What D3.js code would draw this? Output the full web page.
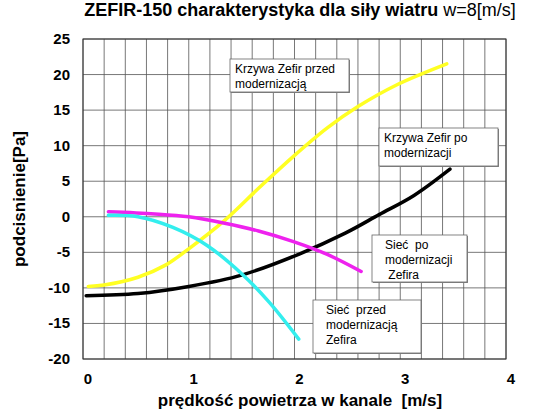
<!DOCTYPE html><html><head><script src="https://cdn.jsdelivr.net/npm/d3@7"></script>
<style>body{margin:0;background:#fff}text{font-family:"Liberation Sans",Arial,sans-serif;white-space:pre}</style></head><body>
<svg id="c" width="540" height="412"></svg>
<script>
const xTicks=[0,1,2,3,4];
const yTicks=[25,20,15,10,5,0,-5,-10,-15,-20];
const yellowX=[0.05,0.2,0.52,0.78,1.0,1.34,1.66,1.99,2.31,2.6,2.96,3.44];
const yellowY=[-9.8,-9.6,-8.5,-6.8,-4.5,-0.5,4,8.5,12.5,15.5,18.5,21.5];
const blackX=[0.03,0.52,1.0,1.5,2.05,2.48,2.8,3.13,3.47];
const blackY=[-11.1,-10.8,-9.8,-8.2,-5.2,-2.3,0.3,3,6.7];
const magX=[0.24,0.68,1.0,1.34,1.66,1.99,2.31,2.63];
const magY=[0.7,0.4,0,-0.9,-2,-3.5,-5.3,-7.7];
const cyanX=[0.24,0.52,0.85,1.17,1.5,1.76,2.04];
const cyanY=[0.2,0,-1.5,-4,-8,-12,-17.2];
const labels=[
 {t:["Krzywa Zefir przed","modernizacją"],b:[230,59,349,92]},
 {t:["Krzywa Zefir po","modernizacji"],b:[379,128,498,166]},
 {t:["Sieć  po","modernizacji"," Zefira"],b:[372,235,467,282]},
 {t:["Sieć  przed","modernizacją","Zefira"],b:[313,300,421,353]}];
const svg=d3.select("#c");
const x=d3.scaleLinear().domain([0,4]).range([83,506]);
const y=d3.scaleLinear().domain([-20,25]).range([359,39]);
const g=svg.append("g");
d3.range(0,4.01,0.2).forEach(v=>g.append("line").attr("x1",x(v)).attr("x2",x(v)).attr("y1",y(25)).attr("y2",y(-20)).attr("stroke","#555").attr("stroke-width",0.8));
yTicks.forEach(v=>g.append("line").attr("x1",x(0)).attr("x2",x(4)).attr("y1",y(v)).attr("y2",y(v)).attr("stroke","#555").attr("stroke-width",0.8));
svg.append("rect").attr("x",x(0)).attr("y",y(25)).attr("width",x(4)-x(0)).attr("height",y(-20)-y(25)).attr("fill","none").attr("stroke","#333").attr("stroke-width",1);
yTicks.forEach(v=>svg.append("text").attr("x",70).attr("y",y(v)+5).attr("text-anchor","end").attr("font-size",15).attr("font-weight","bold").text(v));
xTicks.forEach(v=>svg.append("text").attr("x",x(v)+5).attr("y",384).attr("text-anchor","middle").attr("font-size",15).attr("font-weight","bold").text(v));
const line=d3.line().x(d=>x(d[0])).y(d=>y(d[1])).curve(d3.curveCatmullRom);
[[yellowX,yellowY,"#ffff22"],[blackX,blackY,"#000"],[magX,magY,"#ee22ee"],[cyanX,cyanY,"#33eeee"]].forEach(([xs,ys,c])=>
 svg.append("path").attr("d",line(xs.map((v,i)=>[v,ys[i]]))).attr("fill","none").attr("stroke",c).attr("stroke-width",3.5).attr("stroke-linecap","round"));
labels.forEach(l=>{const [a,b,c2,d]=l.b;
 svg.append("rect").attr("x",a+1).attr("y",b+1).attr("width",c2-a).attr("height",d-b).attr("fill","#888");
 svg.append("rect").attr("x",a).attr("y",b).attr("width",c2-a).attr("height",d-b).attr("fill","#fff").attr("stroke","#666").attr("stroke-width",0.8);
 l.t.forEach((s,i)=>svg.append("text").attr("x",a+(l.t.length>2?13:5)).attr("y",b+14+i*15).attr("font-size",12).text(s));});
const t=svg.append("text").attr("x",300).attr("y",16).attr("text-anchor","middle").attr("font-size",18);
t.append("tspan").attr("font-weight","bold").text("ZEFIR-150 charakterystyka dla siły wiatru ");
t.append("tspan").text("w=8[m/s]");
svg.append("text").attr("transform","translate(25,199) rotate(-90)").attr("text-anchor","middle").attr("font-size",17).attr("font-weight","bold").text("podcisnienie[Pa]");
svg.append("text").attr("x",300).attr("y",406).attr("text-anchor","middle").attr("font-size",17).attr("font-weight","bold").text("prędkość powietrza w kanale  [m/s]");
</script></body></html>
